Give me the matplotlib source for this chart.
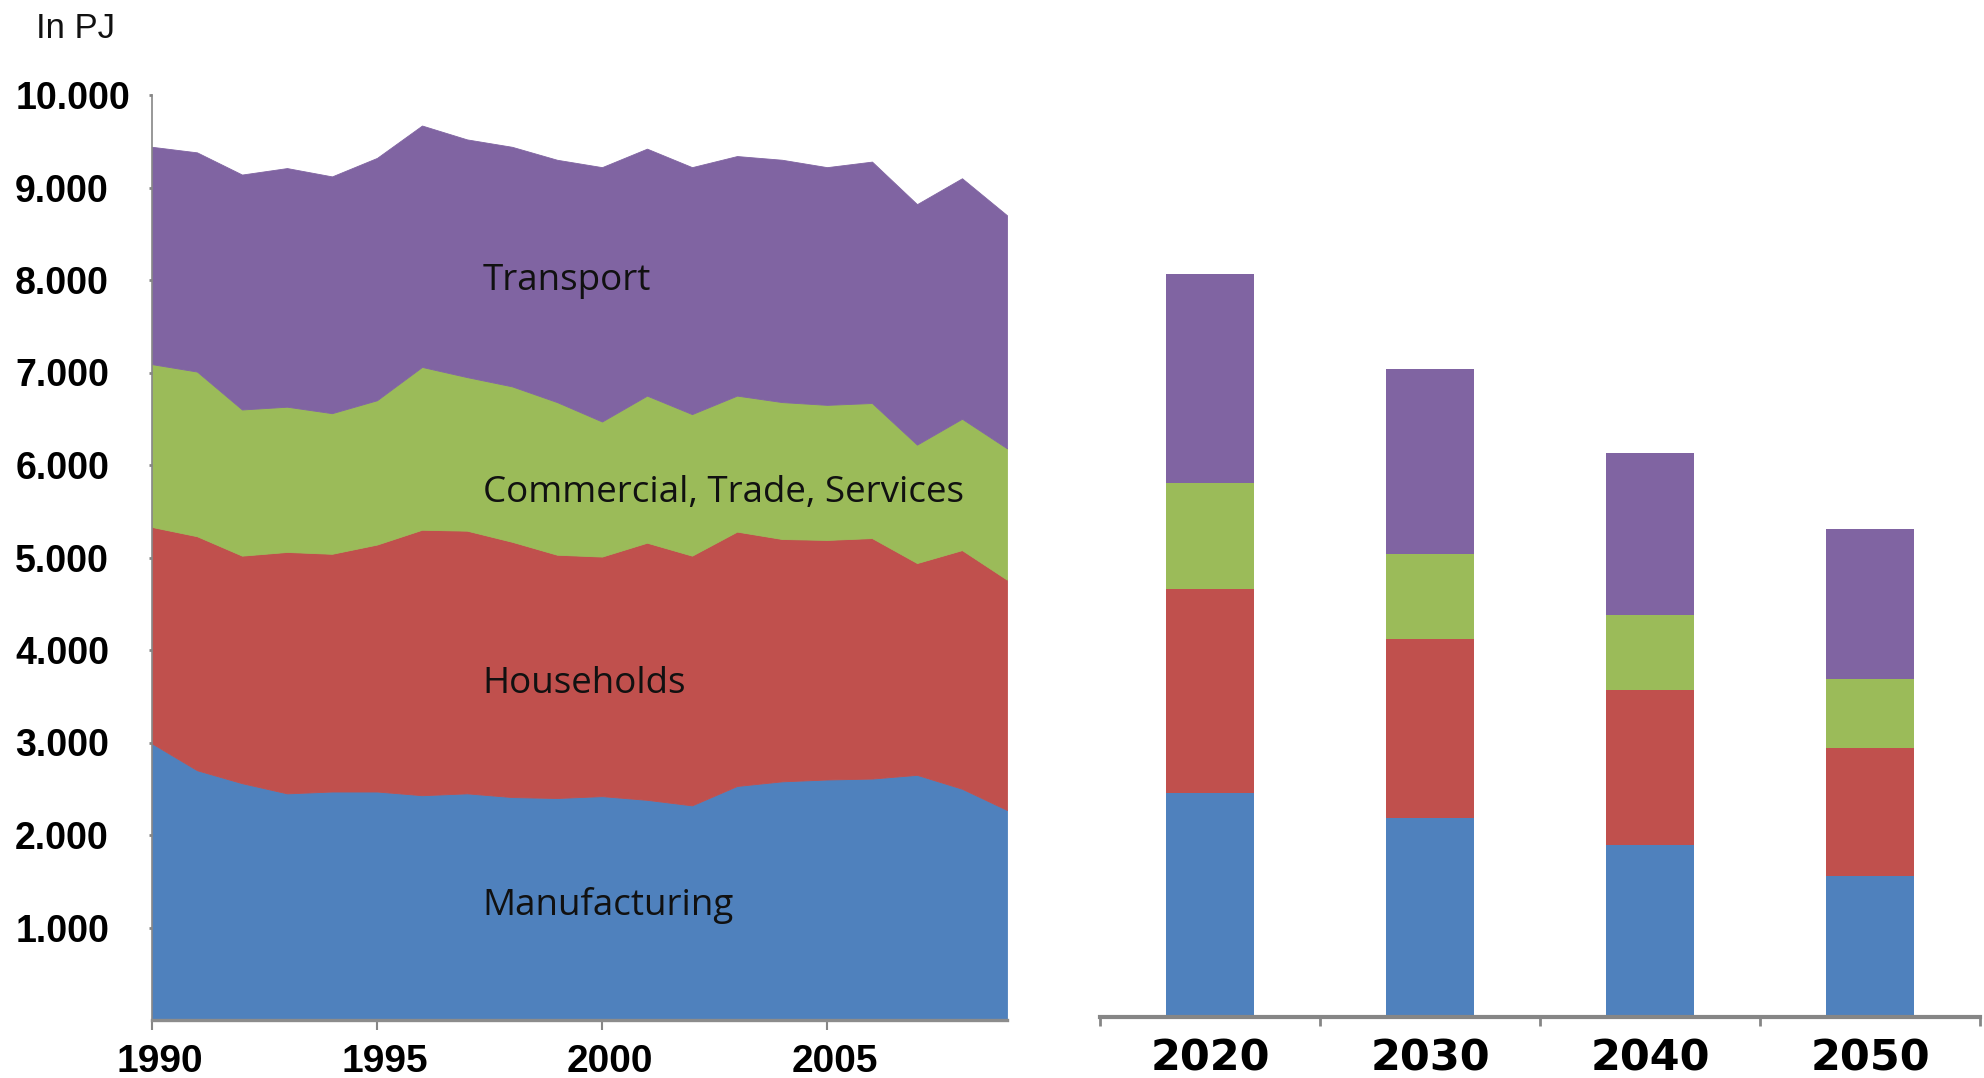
import matplotlib
matplotlib.use("Agg")
import matplotlib.pyplot as plt
from matplotlib.transforms import ScaledTranslation

# ---------------- data (PJ) ----------------
years = list(range(1990, 2010))
manufacturing = [2990, 2700, 2560, 2450, 2470, 2470, 2430, 2450, 2410, 2400,
                 2420, 2380, 2320, 2530, 2580, 2600, 2610, 2650, 2500, 2270]
households = [2340, 2530, 2460, 2610, 2570, 2670, 2870, 2840, 2760, 2630,
              2590, 2780, 2700, 2750, 2620, 2590, 2600, 2290, 2580, 2490]
commercial = [1760, 1780, 1580, 1570, 1520, 1560, 1760, 1660, 1680, 1650,
              1460, 1590, 1530, 1470, 1480, 1460, 1460, 1280, 1420, 1420]
transport = [2350, 2370, 2540, 2580, 2560, 2620, 2610, 2570, 2590, 2620,
             2750, 2670, 2670, 2590, 2620, 2570, 2610, 2600, 2600, 2520]

proj_years = ["2020", "2030", "2040", "2050"]
proj_manufacturing = [2420, 2150, 1860, 1520]
proj_households = [2210, 1940, 1670, 1390]
proj_commercial = [1140, 920, 820, 740]
proj_transport = [2260, 1990, 1750, 1630]

series_names = ["Manufacturing", "Households", "Commercial, Trade, Services", "Transport"]
colors = ["#4F81BD", "#C0504D", "#9BBB59", "#8064A2"]

y_ticks = [1000, 2000, 3000, 4000, 5000, 6000, 7000, 8000, 9000, 10000]
y_tick_labels = ["1.000", "2.000", "3.000", "4.000", "5.000",
                 "6.000", "7.000", "8.000", "9.000", "10.000"]
x_ticks = [1990, 1995, 2000, 2005]
x_tick_labels = ["1990", "1995", "2000", "2005"]

# ---------------- layout ----------------
W, H = 1984, 1078
fig = plt.figure(figsize=(W / 100, H / 100), dpi=100)
AX_GRAY = "#868686"

# Left: stacked area (history)
ax = fig.add_axes([152 / W, 1 - 1020 / H, (1007 - 152) / W, 925 / H])
ax.set_xlim(years[0], years[-1])
ax.set_ylim(0, 10000)
polys = ax.stackplot(years, manufacturing, households, commercial, transport,
                     colors=colors, linewidth=0)
for p, c in zip(polys, colors):
    p.set_edgecolor(c)
    p.set_linewidth(0.6)

for s in ("top", "right"):
    ax.spines[s].set_visible(False)
ax.spines["left"].set_color(AX_GRAY)
ax.spines["left"].set_linewidth(1.2)
ax.spines["bottom"].set_color("#8c8c8c")
ax.spines["bottom"].set_linewidth(2.4)
ax.spines["bottom"].set_zorder(5)

ax.set_yticks(y_ticks, y_tick_labels, ha="left",
              fontfamily="Liberation Sans", fontweight="bold", fontsize=27)
ax.tick_params(axis="y", direction="out", length=2.5, width=2, color=AX_GRAY, pad=96)
ax.set_xticks(x_ticks, x_tick_labels,
              fontfamily="Liberation Sans", fontweight="bold", fontsize=28)
ax.tick_params(axis="x", direction="out", length=7, width=1.5, color=AX_GRAY, pad=10)
shift = ScaledTranslation(8 / 100, 0, fig.dpi_scale_trans)
for lbl in ax.get_xticklabels():
    lbl.set_transform(lbl.get_transform() + shift)

label_x = 1997.35
label_font = dict(fontfamily="Open Sans", fontsize=26.5, color="#111111",
                  ha="left", va="baseline")
ax.text(label_x, 7890, "Transport", **label_font)
ax.text(label_x, 5600, "Commercial, Trade, Services", **label_font)
ax.text(label_x, 3530, "Households", **label_font)
ax.text(label_x, 1135, "Manufacturing", **label_font)

# Right: stacked bars (projection)
ax2 = fig.add_axes([1100 / W, 1 - 1017 / H, 880 / W, 925 / H])
ax2.set_xlim(-0.5, 3.5)
ax2.set_ylim(0, 10000)
xpos = list(range(len(proj_years)))
bottom = [0] * len(proj_years)
for vals, c in zip([proj_manufacturing, proj_households, proj_commercial, proj_transport], colors):
    ax2.bar(xpos, vals, width=0.4, bottom=bottom, color=c, linewidth=0)
    bottom = [b + v for b, v in zip(bottom, vals)]

for s in ("top", "right", "left"):
    ax2.spines[s].set_visible(False)
ax2.spines["bottom"].set_color(AX_GRAY)
ax2.spines["bottom"].set_linewidth(3)
ax2.set_yticks([])
ax2.set_xticks([-0.5, 0.5, 1.5, 2.5, 3.5], [""] * 5)
ax2.tick_params(axis="x", which="major", direction="out", length=6.5, width=2, color=AX_GRAY)
ax2.set_xticks(xpos, proj_years, minor=True,
               fontfamily="DejaVu Sans", fontweight="bold", fontsize=31)
ax2.tick_params(axis="x", which="minor", length=0, pad=15)

# Unit label
fig.text(36 / W, 1 - 38 / H, "In PJ", fontfamily="Liberation Sans", fontsize=25,
         color="#111111", ha="left", va="baseline")

fig.savefig("out.png", dpi=100)
